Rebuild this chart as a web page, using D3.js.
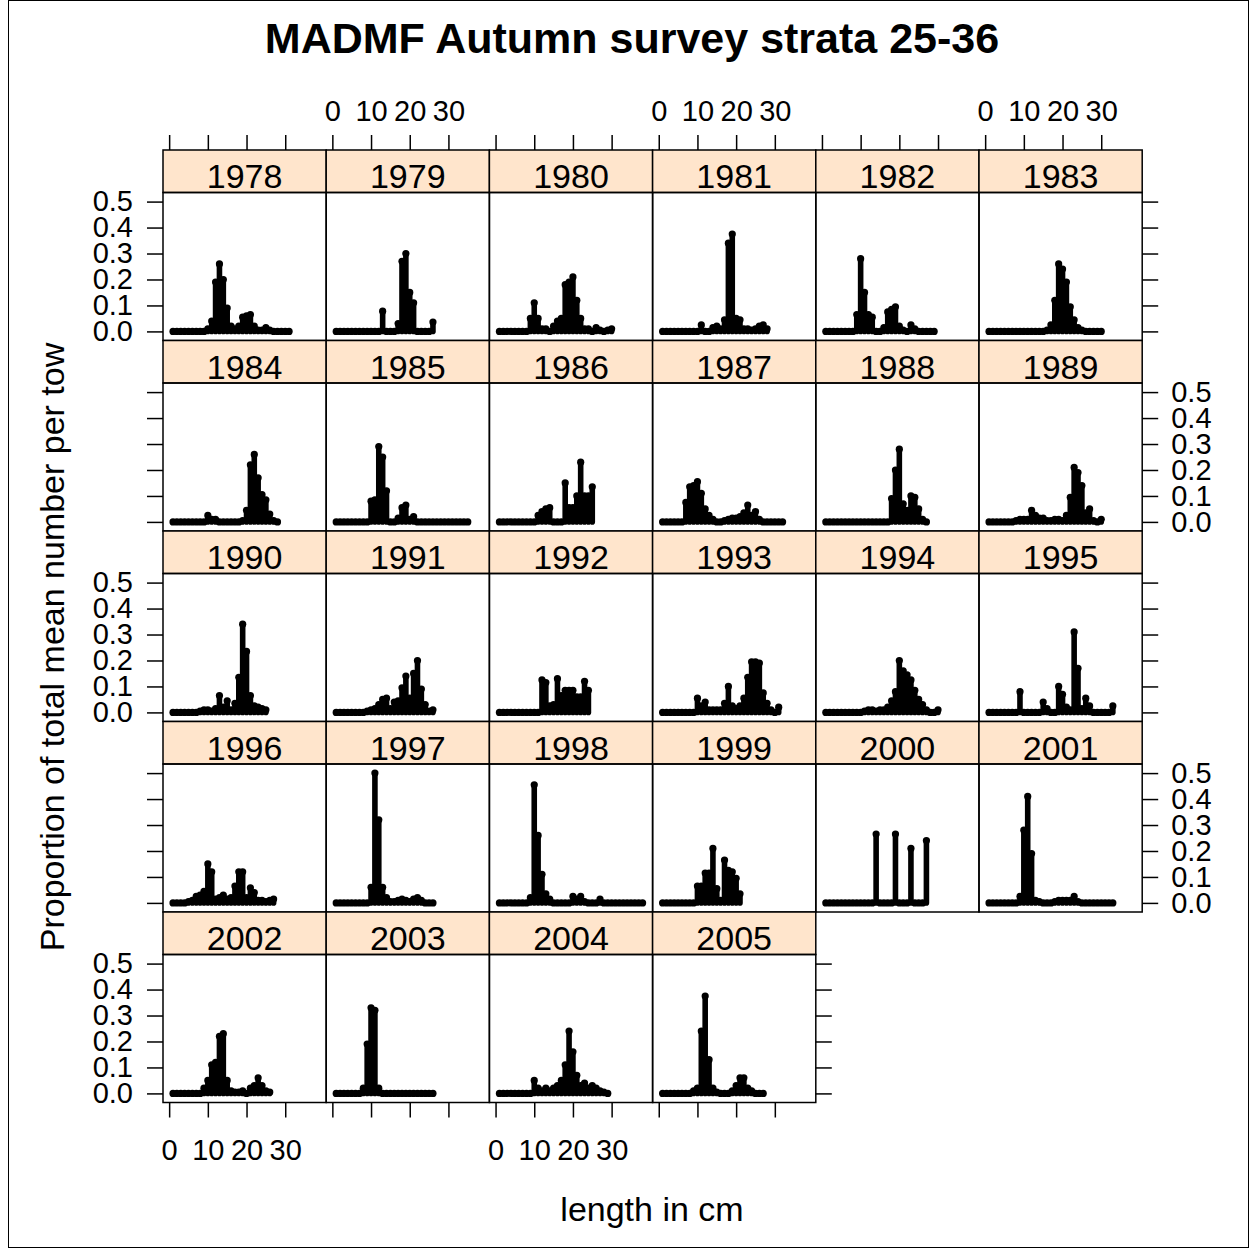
<!DOCTYPE html>
<html>
<head>
<meta charset="utf-8">
<title>MADMF Autumn survey strata 25-36</title>
<script src="https://d3js.org/d3.v7.min.js"></script>
<style>
  body { margin: 0; background: #fff; }
  text { font-family: "Liberation Sans", Arial, sans-serif; fill: #000; }
</style>
</head>
<body>
<script>
// proportion of total mean number per tow, one array per year, starting at 1 cm
var years = [1978,1979,1980,1981,1982,1983,1984,1985,1986,1987,1988,1989,1990,1991,1992,1993,1994,1995,1996,1997,1998,1999,2000,2001,2002,2003,2004,2005];

var p1978 = [0,0,0,0,0,0,0,0,0,0.01,0.04,0.19,0.26,0.2,0.09,0.02,0.01,0.02,0.055,0.06,0.065,0.02,0.005,0.005,0.015,0.005,0,0,0,0,0];
var p1979 = [0,0,0,0,0,0,0,0,0,0,0,0,0.078,0,0,0,0.03,0.27,0.3,0.15,0.11,0,0,0,0,0.036];
var p1980 = [0,0,0,0,0,0,0,0,0.05,0.11,0.05,0.01,0.01,0,0.02,0.04,0.05,0.18,0.19,0.21,0.12,0.05,0.01,0.01,0,0.015,0.005,0,0.005,0.01];
var p1981 = [0,0,0,0,0,0,0,0,0,0,0.025,0,0,0.015,0.02,0.01,0.045,0.34,0.375,0.05,0.045,0.01,0.01,0.005,0.01,0.02,0.025,0.01];
var p1982 = [0,0,0,0,0,0,0,0,0.065,0.28,0.15,0.065,0.055,0,0,0.015,0.075,0.085,0.095,0.02,0.005,0,0.025,0.01,0,0,0,0,0];
var p1983 = [0,0,0,0,0,0,0,0,0,0,0,0,0,0,0,0.005,0.025,0.12,0.26,0.24,0.19,0.095,0.045,0.015,0.005,0,0,0,0,0];
var p1984 = [0,0,0,0,0,0,0,0,0,0.025,0.01,0.01,0,0,0,0,0,0,0.005,0.045,0.22,0.26,0.17,0.105,0.085,0.03,0.005,0];
var p1985 = [0,0,0,0,0,0,0,0,0,0.08,0.085,0.29,0.25,0.12,0,0,0.015,0.055,0.065,0.01,0.02,0,0,0,0,0,0,0,0,0,0,0,0,0,0];
var p1986 = [0,0,0,0,0,0,0,0,0,0,0.025,0.04,0.05,0.055,0,0,0,0.15,0.055,0.055,0.1,0.23,0.1,0.1,0.135];
var p1987 = [0,0,0,0,0,0,0.075,0.135,0.14,0.155,0.11,0.05,0.025,0.01,0,0,0.005,0.01,0.015,0.015,0.02,0.035,0.065,0.025,0.04,0.01,0,0,0,0,0,0];
var p1988 = [0,0,0,0,0,0,0,0,0,0,0,0,0,0,0,0,0,0.09,0.2,0.28,0.07,0.045,0.1,0.095,0.05,0.01,0];
var p1989 = [0,0,0,0,0,0,0,0.005,0.01,0.01,0.01,0.045,0.025,0.015,0.015,0.005,0.005,0.01,0.01,0.005,0.025,0.095,0.21,0.19,0.14,0.035,0.05,0.005,0,0.01];
var p1990 = [0,0,0,0,0,0,0,0.005,0.01,0.01,0.005,0.015,0.065,0.02,0.045,0.01,0.035,0.135,0.34,0.235,0.065,0.025,0.02,0.015,0.01];
var p1991 = [0,0,0,0,0,0,0,0,0.005,0.01,0.015,0.03,0.05,0.055,0.015,0.04,0.045,0.095,0.14,0.055,0.15,0.2,0.09,0.03,0.005,0.01];
var p1992 = [0,0,0,0,0,0,0,0,0,0,0,0.125,0.115,0.025,0.03,0.13,0.065,0.085,0.085,0.085,0.06,0.06,0.12,0.085];
var p1993 = [0,0,0,0,0,0,0,0,0,0.055,0.025,0.04,0.01,0.01,0.01,0.01,0.035,0.1,0.025,0.015,0.025,0.055,0.135,0.195,0.195,0.19,0.075,0.035,0.01,0,0.02];
var p1994 = [0,0,0,0,0,0,0,0,0,0,0.005,0.01,0.01,0.005,0.01,0.01,0.02,0.045,0.08,0.2,0.16,0.145,0.125,0.085,0.05,0.03,0.01,0,0,0.01];
var p1995 = [0,0,0,0,0,0,0,0,0.08,0,0,0,0,0,0.04,0.015,0,0,0.1,0.07,0.02,0.01,0.31,0.17,0.015,0.055,0.025,0,0,0,0,0,0.025];
var p1996 = [0,0,0,0,0.005,0.01,0.025,0.03,0.045,0.15,0.12,0.015,0.02,0.03,0.015,0.02,0.065,0.12,0.12,0.02,0.058,0.04,0.01,0.01,0.005,0.01,0.015];
var p1997 = [0,0,0,0,0,0,0,0,0,0.06,0.5,0.32,0.06,0.02,0.005,0.005,0.01,0.015,0.01,0.005,0.015,0.02,0.01,0,0,0];
var p1998 = [0,0,0,0,0,0,0,0,0.02,0.455,0.26,0.11,0.035,0.015,0,0,0,0,0,0.025,0.015,0.025,0.005,0,0,0,0.015,0,0,0,0,0,0,0,0,0,0,0];
var p1999 = [0,0,0,0,0,0,0,0,0,0.065,0.065,0.115,0.115,0.21,0.055,0.01,0.165,0.125,0.12,0.095,0.035];
var p2000 = [0,0,0,0,0,0,0,0,0,0,0,0,0,0.265,0,0,0,0,0.265,0,0,0,0.21,0,0,0,0.24];
var p2001 = [0,0,0,0,0,0,0,0,0.025,0.28,0.41,0.19,0.01,0.005,0,0,0,0.005,0.01,0.01,0.01,0.01,0.025,0.005,0,0,0,0,0,0,0,0,0];
var p2002 = [0,0,0,0,0,0,0,0,0.02,0.05,0.11,0.12,0.22,0.23,0.05,0.01,0.005,0.005,0.01,0,0.02,0.03,0.06,0.03,0.01,0.005];
var p2003 = [0,0,0,0,0,0,0,0.02,0.19,0.33,0.32,0.02,0,0,0,0,0,0,0,0,0,0,0,0,0,0];
var p2004 = [0,0,0,0,0,0,0,0,0,0.05,0.02,0.01,0.02,0.01,0.02,0.03,0.05,0.11,0.24,0.16,0.07,0.03,0.04,0.02,0.03,0.02,0.01,0.005,0];
var p2005 = [0,0,0,0,0,0,0,0,0.01,0.02,0.24,0.375,0.13,0.02,0.005,0,0,0,0.01,0.03,0.06,0.06,0.02,0.01,0,0,0];

var props = [p1978,p1979,p1980,p1981,p1982,p1983,p1984,p1985,p1986,p1987,p1988,p1989,p1990,p1991,p1992,p1993,p1994,p1995,p1996,p1997,p1998,p1999,p2000,p2001,p2002,p2003,p2004,p2005];

var xTicks = [0, 10, 20, 30];
var yTicks = [0, 0.1, 0.2, 0.3, 0.4, 0.5];

var width = 1253, height = 1249;
var svg = d3.select("body").append("svg")
    .attr("width", width)
    .attr("height", height);

// layout of the lattice
var left = 163, top0 = 150;
var colW = 163.2, stripH = 42.5, panelH = 148, rowH = 190.5;
var ncol = 6, nrow = 5;

var x = d3.scaleLinear().domain([-1.59, 40.59]).range([0, colW]);
var y = d3.scaleLinear().domain([-0.035, 0.535]).range([panelH, 0]);

// outer frame
svg.append("rect")
    .attr("x", 8.5).attr("y", 0.5)
    .attr("width", 1240).attr("height", 1247)
    .attr("fill", "none").attr("stroke", "#000").attr("stroke-width", 1);

svg.append("text")
    .attr("x", 632).attr("y", 53)
    .attr("text-anchor", "middle")
    .attr("font-size", 43).attr("font-weight", "bold")
    .text("MADMF Autumn survey strata 25-36");

function styleAxis(g, showLabels) {
  g.select(".domain").remove();
  g.selectAll(".tick line").attr("stroke", "#000").attr("stroke-width", 1.5);
  g.selectAll(".tick text")
      .attr("font-size", 29)
      .attr("font-family", "Liberation Sans, Arial, sans-serif")
      .attr("fill", "#000")
      .style("display", showLabels ? null : "none");
}

// panels
years.forEach(function(yr, i) {
  var col = i % ncol, row = Math.floor(i / ncol);
  var g = svg.append("g")
      .attr("transform", "translate(" + (left + col * colW) + "," + (top0 + row * rowH) + ")");

  g.append("rect")
      .attr("width", colW).attr("height", stripH)
      .attr("fill", "#ffe5cc").attr("stroke", "#000").attr("stroke-width", 1.5);
  g.append("text")
      .attr("x", colW / 2).attr("y", 38)
      .attr("text-anchor", "middle")
      .attr("font-size", 34)
      .text(yr);

  var p = g.append("g").attr("transform", "translate(0," + stripH + ")");
  var pts = props[i].map(function(v, k) { return {len: k + 1, v: v}; });

  p.selectAll("line.h").data(pts).enter().append("line")
      .attr("x1", function(d) { return x(d.len); })
      .attr("x2", function(d) { return x(d.len); })
      .attr("y1", y(0))
      .attr("y2", function(d) { return y(d.v); })
      .attr("stroke", "#000").attr("stroke-width", 5.6)
      .attr("stroke-linecap", "round");

  p.selectAll("circle").data(pts).enter().append("circle")
      .attr("cx", function(d) { return x(d.len); })
      .attr("cy", function(d) { return y(d.v); })
      .attr("r", 3.6)
      .attr("fill", "#000");

  p.append("rect")
      .attr("width", colW).attr("height", panelH)
      .attr("fill", "none").attr("stroke", "#000").attr("stroke-width", 1.5);
});

// top axis, all columns; labels on every second one
for (var c = 0; c < ncol; c++) {
  var gt = svg.append("g")
      .attr("transform", "translate(" + (left + c * colW) + "," + top0 + ")")
      .call(d3.axisTop(x).tickValues(xTicks).tickSize(15).tickPadding(14));
  styleAxis(gt, c % 2 == 1);
}

// bottom axis under the last row (4 panels)
for (var c = 0; c < 4; c++) {
  var gb = svg.append("g")
      .attr("transform", "translate(" + (left + c * colW) + "," + (top0 + 4 * rowH + stripH + panelH) + ")")
      .call(d3.axisBottom(x).tickValues(xTicks).tickSize(15).tickPadding(22));
  styleAxis(gb, c % 2 == 0);
}

// y axes, alternating sides
for (var r = 0; r < nrow; r++) {
  var py = top0 + r * rowH + stripH;
  var gl = svg.append("g")
      .attr("transform", "translate(" + left + "," + py + ")")
      .call(d3.axisLeft(y).tickValues(yTicks).tickFormat(d3.format(".1f")).tickSize(16).tickPadding(14));
  styleAxis(gl, r % 2 == 0);

  var rightX = left + (r == 4 ? 4 : 6) * colW;
  var gr = svg.append("g")
      .attr("transform", "translate(" + rightX + "," + py + ")")
      .call(d3.axisRight(y).tickValues(yTicks).tickFormat(d3.format(".1f")).tickSize(16).tickPadding(13));
  styleAxis(gr, r % 2 == 1);
}

svg.append("text")
    .attr("x", 652).attr("y", 1221)
    .attr("text-anchor", "middle")
    .attr("font-size", 34)
    .text("length in cm");

svg.append("text")
    .attr("transform", "translate(64,647) rotate(-90)")
    .attr("text-anchor", "middle")
    .attr("font-size", 34)
    .text("Proportion of total mean number per tow");
</script>
</body>
</html>
